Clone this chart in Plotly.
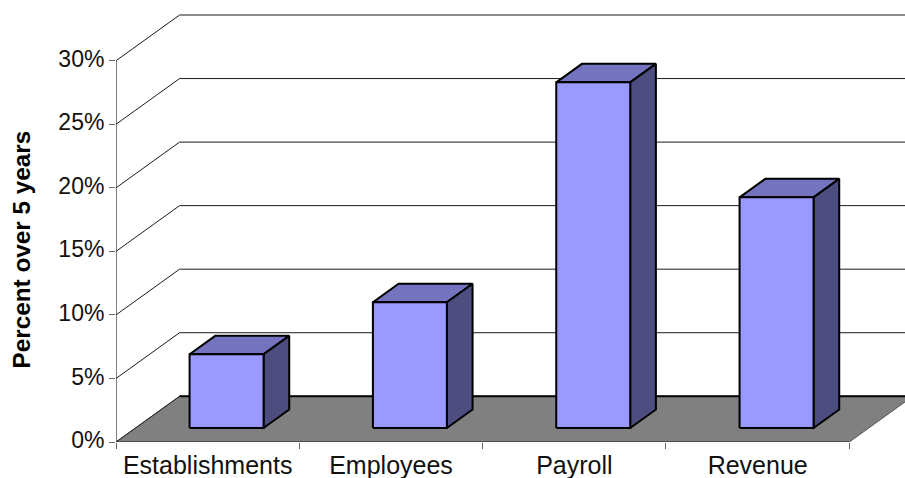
import plotly.graph_objects as go

categories = ["Establishments", "Employees", "Payroll", "Revenue"]
values = [5.8, 9.9, 27.2, 18.15]
y_ticks = [0, 5, 10, 15, 20, 25, 30]

W, H = 905, 478
LEFT, BOTTOM_PX = 115.7, 441.7
PX_PER_CAT = 183.4
PX_PER_PCT = 12.7
DEPTH_X = 63.6 / PX_PER_CAT   # oblique shift of the full chart depth, in category units
DEPTH_Y = 45.7 / PX_PER_PCT   # same, in percent units
BAR_NEAR, BAR_FAR = 0.306, 0.71
BAR_W = 74 / PX_PER_CAT
BAR_CENTER = 0.497

FONT = "Liberation Sans, Arial, sans-serif"


def proj(x, v, d):
    return x + d * DEPTH_X, v + d * DEPTH_Y


def poly(points, fill, line_color, line_width):
    xs = [proj(*p)[0] for p in points] + [proj(*points[0])[0]]
    ys = [proj(*p)[1] for p in points] + [proj(*points[0])[1]]
    return go.Scatter(x=xs, y=ys, mode="lines", fill="toself", fillcolor=fill,
                      line=dict(color=line_color, width=line_width),
                      hoverinfo="skip", showlegend=False)


def path(points, color, width):
    return go.Scatter(x=[proj(*p)[0] for p in points], y=[proj(*p)[1] for p in points],
                      mode="lines", line=dict(color=color, width=width),
                      hoverinfo="skip", showlegend=False)


n = len(categories)
fig = go.Figure()

# wall grid lines
for t in y_ticks[1:]:
    fig.add_trace(path([(0, t, 0), (0, t, 1), (n, t, 1)], "#1a1a1a", 1))

# floor
fig.add_trace(poly([(0, 0, 0), (n, 0, 0), (n, 0, 1), (0, 0, 1)], "#808080", "#555555", 1))
fig.add_trace(path([(0, 0, 1), (n, 0, 1)], "#000000", 2))
fig.add_trace(path([(0, 0, 0), (n, 0, 0)], "#444444", 1.5))

# value axis line
fig.add_trace(path([(0, 0, 0), (0, y_ticks[-1], 0)], "#000000", 1))
fig.add_trace(path([(0, 0, 0), (0, 0, 1)], "#222222", 1))

# bars
for i, v in enumerate(values):
    x0 = i + BAR_CENTER - BAR_W / 2
    x1 = i + BAR_CENTER + BAR_W / 2
    fig.add_trace(poly([(x0, v, BAR_NEAR), (x1, v, BAR_NEAR), (x1, v, BAR_FAR), (x0, v, BAR_FAR)],
                       "#7373BF", "#000000", 2))
    fig.add_trace(poly([(x1, 0, BAR_NEAR), (x1, 0, BAR_FAR), (x1, v, BAR_FAR), (x1, v, BAR_NEAR)],
                       "#4D4D80", "#000000", 2))
    fig.add_trace(poly([(x0, 0, BAR_NEAR), (x1, 0, BAR_NEAR), (x1, v, BAR_NEAR), (x0, v, BAR_NEAR)],
                       "#9999FF", "#000000", 2))

fig.update_layout(
    width=W, height=H, autosize=False,
    margin=dict(l=LEFT, r=0, t=0, b=H - BOTTOM_PX, pad=0, autoexpand=False),
    paper_bgcolor="white", plot_bgcolor="white",
    showlegend=False,
    font=dict(family=FONT, color="#000000"),
    xaxis=dict(
        range=[0, (W - LEFT) / PX_PER_CAT],
        tickmode="array",
        tickvals=[i + 0.5 for i in range(n)],
        ticktext=categories,
        tickfont=dict(size=25, family=FONT, color="#111111"),
        ticks="", showgrid=False, zeroline=False, showline=False,
        automargin=False,
        ticklabelstandoff=6,
        minor=dict(tickmode="array", tickvals=list(range(n + 1)), ticks="outside",
                   ticklen=6, tickwidth=1, tickcolor="#666666", showgrid=False),
    ),
    yaxis=dict(
        range=[0, BOTTOM_PX / PX_PER_PCT],
        tickmode="array",
        tickvals=y_ticks,
        ticktext=[f"{t}%" for t in y_ticks],
        tickfont=dict(size=23, family=FONT, color="#111111"),
        ticks="outside", ticklen=6, tickwidth=1, tickcolor="#666666",
        showgrid=False, zeroline=False, showline=False,
        automargin=False,
        ticklabelshift=-2,
    ),
    annotations=[dict(
        text="<b>Percent over 5 years</b>", textangle=-90,
        xref="paper", yref="paper", x=-0.1195, y=0.435,
        xanchor="center", yanchor="middle", showarrow=False,
        font=dict(size=24.3, family=FONT, color="#000000"),
    )],
)

fig.write_html("out.html", config={"displayModeBar": False},
               post_script="document.body.style.margin='0';document.body.style.overflow='hidden';")
